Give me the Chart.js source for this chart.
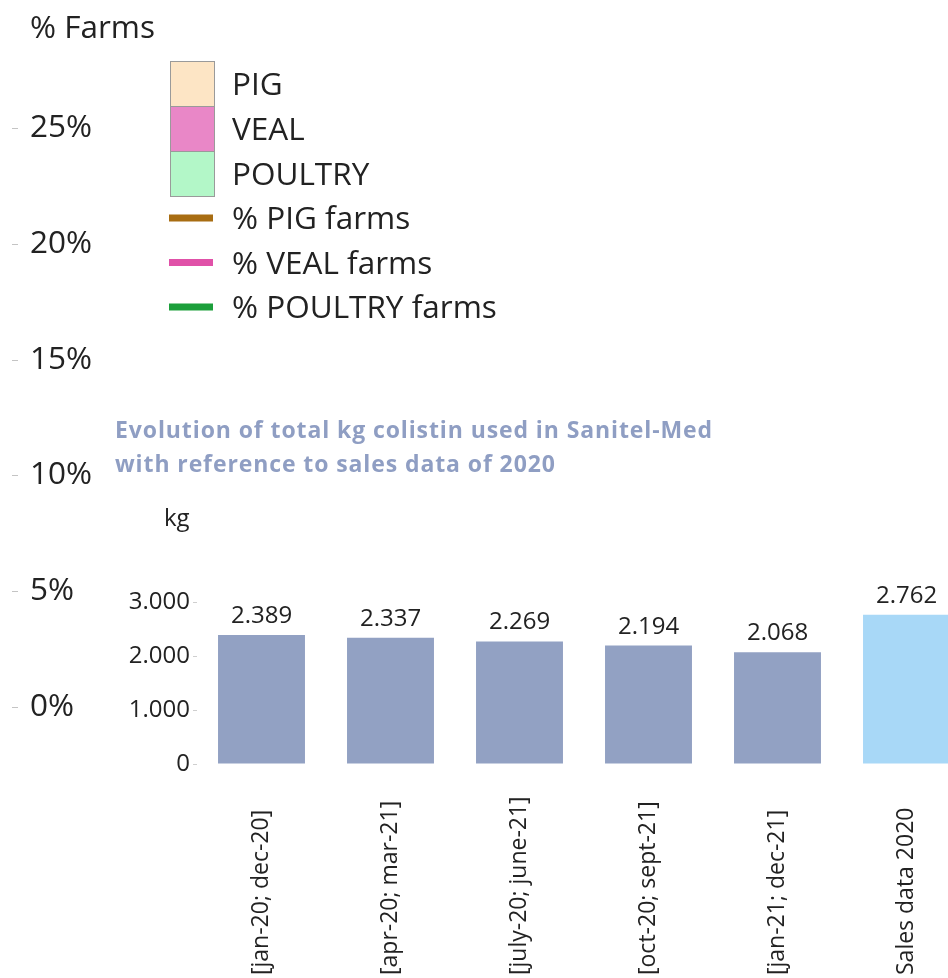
<!DOCTYPE html>
<html>
<head>
<meta charset="utf-8">
<script src="https://cdn.jsdelivr.net/npm/chart.js@4.4.1/dist/chart.umd.min.js"></script>
<style>
  html, body { margin: 0; padding: 0; background: #fff; }
  #wrap { position: relative; width: 948px; height: 978px; overflow: hidden; }
  #wrap canvas { position: absolute; left: 0; top: 0; }
</style>
</head>
<body>
<div id="wrap">
  <canvas id="farms" width="948" height="978"></canvas>
  <canvas id="kg" width="1000" height="978"></canvas>
</div>
<script>
// --- Data ---
const farmTicks = [0, 5, 10, 15, 20, 25];
const farmSeries = ['PIG', 'VEAL', 'POULTRY'];
const farmBoxColors = ['#fde5c5', '#e987c7', '#b3f7c8'];
const farmLineSeries = ['% PIG farms', '% VEAL farms', '% POULTRY farms'];
const farmLineColors = ['#a86d12', '#e051a8', '#1c9f3b'];

const periods = ['[jan-20; dec-20]', '[apr-20; mar-21]', '[july-20; june-21]', '[oct-20; sept-21]', '[jan-21; dec-21]', 'Sales data 2020'];
const kgValues = [2389, 2337, 2269, 2194, 2068, 2762];
const kgTicks = [0, 1000, 2000, 3000];
const barColors = ['#92a1c3', '#92a1c3', '#92a1c3', '#92a1c3', '#92a1c3', '#a8d8f7'];

const FONT = '"Open Sans", "Noto Sans", sans-serif';
const BIG = 31.5;
const fmt = v => String(v).replace(/\B(?=(\d{3})+(?!\d))/g, '.');

// --- % Farms chart (axis + legend, no marks visible) ---
const farmsOverlay = {
    id: 'farmsOverlay',
    afterDraw(chart) {
        const ctx = chart.ctx;
        const y = chart.scales.y;
        ctx.save();
        // small tick dashes left of the labels
        ctx.strokeStyle = '#c4c4c4';
        ctx.lineWidth = 1;
        y.ticks.forEach(t => {
            const py = Math.round(y.getPixelForValue(t.value)) + 0.5;
            ctx.beginPath(); ctx.moveTo(12, py); ctx.lineTo(18, py); ctx.stroke();
        });
        ctx.fillStyle = '#222';
        ctx.font = BIG + 'px ' + FONT;
        ctx.textBaseline = 'alphabetic';
        ctx.fillText('% Farms', 30, 38);

        // legend
        chart.data.datasets.forEach((ds, i) => {
            if (ds.type === 'line') {
                const cy = 218 + (i - 3) * 44.5;
                ctx.fillStyle = ds.borderColor;
                ctx.fillRect(169, cy - 3.5, 44, 7);
                ctx.fillStyle = '#222';
                ctx.fillText(ds.label, 232, cy + 11);
            } else {
                const top = 61 + i * 45;
                ctx.fillStyle = ds.backgroundColor;
                ctx.fillRect(170, top, 44, 45);
                ctx.strokeStyle = '#9a9a9a';
                ctx.strokeRect(170.5, top + 0.5, 44, 45);
                ctx.fillStyle = '#222';
                ctx.fillText(ds.label, 232, top + 22.5 + 11);
            }
        });
        ctx.restore();
    }
};

new Chart(document.getElementById('farms'), {
    type: 'bar',
    data: {
        labels: [],
        datasets: farmSeries.map((s, i) => ({ label: s, data: [], backgroundColor: farmBoxColors[i] }))
            .concat(farmLineSeries.map((s, i) => ({ type: 'line', label: s, data: [], borderColor: farmLineColors[i] })))
    },
    options: {
        responsive: false,
        animation: false,
        layout: { padding: { top: 128, bottom: 271, left: 30, right: 0 } },
        plugins: { legend: { display: false }, tooltip: { enabled: false } },
        scales: {
            x: { display: false },
            y: {
                min: 0, max: 25,
                afterBuildTicks: s => { s.ticks = farmTicks.map(v => ({ value: v })); },
                border: { display: false },
                grid: { display: false },
                ticks: {
                    crossAlign: 'far',
                    color: '#222',
                    font: { family: FONT, size: BIG },
                    callback: v => v + '%'
                }
            }
        }
    },
    plugins: [farmsOverlay]
});

// --- kg colistin bar chart ---
const kgOverlay = {
    id: 'kgOverlay',
    afterDraw(chart) {
        const ctx = chart.ctx;
        ctx.save();
        ctx.fillStyle = '#8f9ec3';
        ctx.font = 'bold 23px ' + FONT;
        ctx.letterSpacing = '0.9px';
        ctx.fillText('Evolution of total kg colistin used in Sanitel-Med', 115, 438);
        ctx.fillText('with reference to sales data of 2020', 115, 472);
        ctx.letterSpacing = '0px';
        ctx.fillStyle = '#222';
        ctx.font = '24px ' + FONT;
        ctx.fillText('kg', 164, 526);

        // value labels above bars
        ctx.textAlign = 'center';
        chart.getDatasetMeta(0).data.forEach((bar, i) => {
            ctx.fillText(fmt(kgValues[i]), bar.x, bar.y - 12);
        });

        // category labels, rotated and bottom-anchored
        const x = chart.scales.x;
        ctx.font = '23px ' + FONT;
        ctx.textAlign = 'left';
        ctx.textBaseline = 'middle';
        x.ticks.forEach((t, i) => {
            ctx.save();
            ctx.translate(x.getPixelForTick(i), 975);
            ctx.rotate(-Math.PI / 2);
            ctx.fillText(x.getLabelForValue(t.value), 0, 0);
            ctx.restore();
        });
        ctx.restore();
    }
};

new Chart(document.getElementById('kg'), {
    type: 'bar',
    data: {
        labels: periods,
        datasets: [{
            data: kgValues,
            backgroundColor: barColors,
            barPercentage: 0.674,
            categoryPercentage: 1
        }]
    },
    options: {
        responsive: false,
        animation: false,
        layout: { padding: { top: 602, left: 0, right: 29, bottom: 0 } },
        plugins: { legend: { display: false }, tooltip: { enabled: false } },
        scales: {
            x: {
                afterFit: s => { s.height = 214; },
                border: { display: false },
                grid: { display: false },
                ticks: { display: false }
            },
            y: {
                min: 0, max: 3000,
                afterBuildTicks: s => { s.ticks = kgTicks.map(v => ({ value: v })); },
                afterFit: s => { s.width = 197; },
                border: { display: false },
                grid: { drawOnChartArea: false, tickLength: 4, color: '#cfcfcf' },
                ticks: {
                    padding: 3,
                    color: '#222',
                    font: { family: FONT, size: 24 },
                    callback: v => fmt(v)
                }
            }
        }
    },
    plugins: [kgOverlay]
});
</script>
</body>
</html>
